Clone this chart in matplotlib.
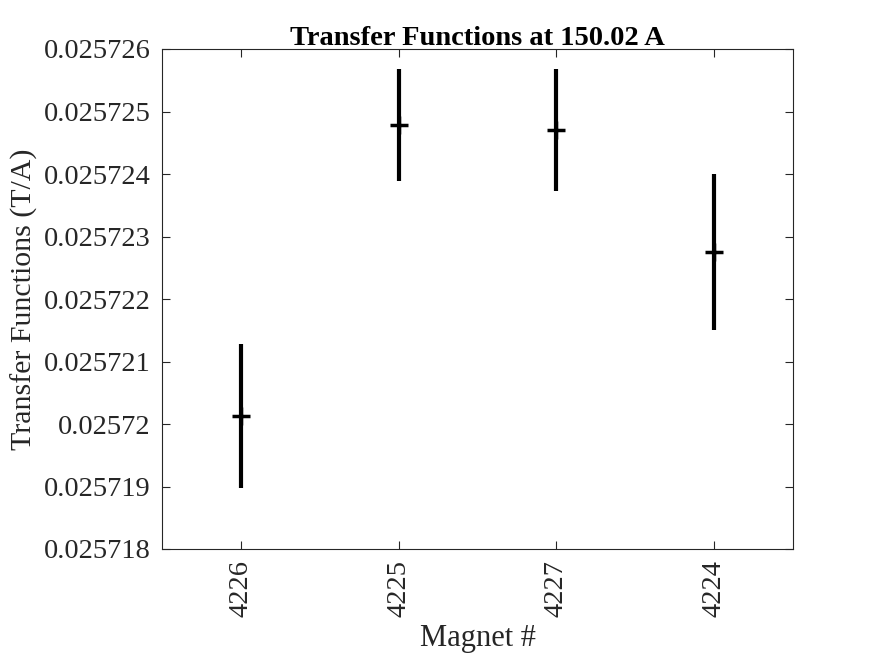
import matplotlib
matplotlib.use("Agg")
import matplotlib.pyplot as plt

magnets = ["4226", "4225", "4227", "4224"]
tf_values = [0.025720128, 0.025724784, 0.025724704, 0.025722752]
tf_errors = [1.15e-6, 0.89e-6, 0.97e-6, 1.25e-6]
y_ticks = [0.025718, 0.025719, 0.02572, 0.025721, 0.025722, 0.025723, 0.025724, 0.025725, 0.025726]
y_tick_labels = ["0.025718", "0.025719", "0.02572", "0.025721", "0.025722", "0.025723", "0.025724", "0.025725", "0.025726"]

plt.rcParams['font.family'] = ['Liberation Serif', 'DejaVu Serif']
fig = plt.figure(figsize=(8.75, 6.56), dpi=100)
ax = fig.add_axes([162/875, 1 - 549/656, (793-162)/875, (549-49)/656])

x = list(range(1, len(magnets) + 1))
ax.errorbar(x, tf_values, yerr=tf_errors, fmt='+', color='black', ecolor='black',
            elinewidth=3, capsize=0, markersize=13, markeredgewidth=2.5)

ax.set_xlim(0.5, 4.5)
ax.set_ylim(0.025718, 0.025726)
ax.set_xticks(x)
ax.set_xticklabels(magnets, rotation=90, fontsize=20.5, color='#262626')
ax.set_yticks(y_ticks)
ax.set_yticklabels(y_tick_labels, fontsize=20.5, color='#262626')
ax.tick_params(direction='in', length=6, width=0.8, color='#262626', pad=8,
               top=True, right=True)
for s in ax.spines.values():
    s.set_color('#262626')
    s.set_linewidth(0.8)

ax.set_xlabel("Magnet #", fontsize=22, color='#262626', labelpad=5)
ax.set_ylabel("Transfer Functions (T/A)", fontsize=21.5, color='#262626', labelpad=4)
ax.set_title("Transfer Functions at 150.02 A", fontsize=20.5, fontweight='bold', pad=3)

fig.savefig("out.png", dpi=100)
